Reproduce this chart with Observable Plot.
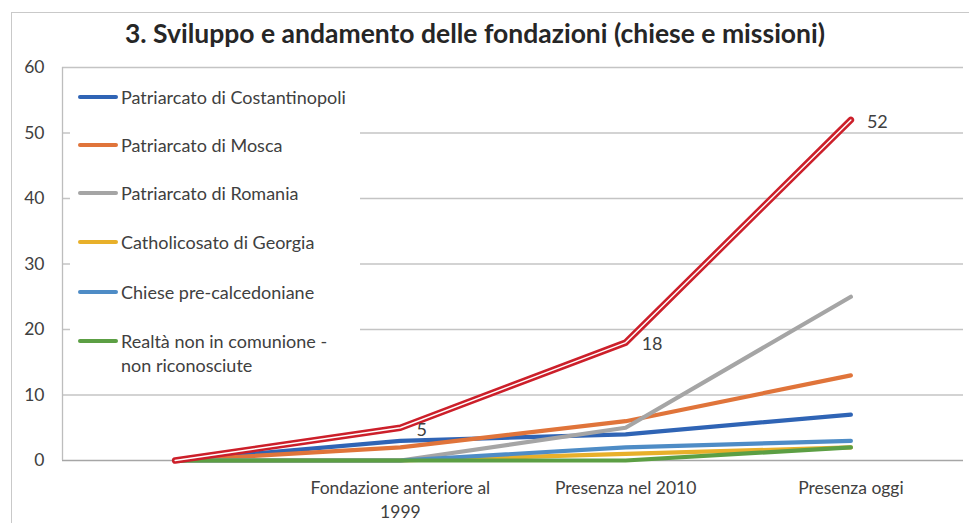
<!DOCTYPE html>
<html><head><meta charset="utf-8">
<script src="https://cdn.jsdelivr.net/npm/d3@7"></script>
<script src="https://cdn.jsdelivr.net/npm/@observablehq/plot@0.6"></script>
<style>
body{margin:0;background:#fff;overflow:hidden;font-family:Lato,sans-serif}
#wrap{position:relative;width:969px;height:523px;overflow:hidden}
#border{position:absolute;left:11px;top:12px;width:1000px;height:600px;border:1.5px solid #c9c9c9;box-sizing:border-box}
#title{position:absolute;left:0;width:950px;top:17px;text-align:center;font-weight:bold;font-size:26.5px;color:#262626;white-space:nowrap}
#chart{position:absolute;left:0;top:0}
#legend{position:absolute;left:70px;top:74px;width:290px;height:314px;background:#fff}
.item{position:absolute;left:8px;font-size:18px;color:#404040;line-height:24px;white-space:nowrap}
.sw{position:absolute;left:0;top:10px;width:40px;height:4px;border-radius:2px}
.lab{position:absolute;left:43px;top:0}
</style></head>
<body>
<div id="wrap">
  <div id="border"></div>
  <div id="chart"></div>
  <div id="legend"></div>
  <div id="title">3. Sviluppo e andamento delle fondazioni (chiese e missioni)</div>
</div>
<script>
const categories = ["", "Fondazione anteriore al\n1999", "Presenza nel 2010", "Presenza oggi"];
const seriesNames = ["Patriarcato di Costantinopoli", "Patriarcato di Mosca", "Patriarcato di Romania", "Catholicosato di Georgia", "Chiese pre-calcedoniane", "Realtà non in comunione -\nnon riconosciute"];
const seriesColors = ["#2f64b5", "#e0743a", "#a5a5a5", "#e8b02a", "#4e8cc6", "#5c9f44"];
const costantinopoli = [0, 3, 4, 7];
const mosca = [0, 2, 6, 13];
const romania = [0, 0, 5, 25];
const georgia = [0, 0, 1, 2];
const precalcedoniane = [0, 0, 2, 3];
const nonComunione = [0, 0, 0, 2];
const totale = [0, 5, 18, 52];
const yTicks = [0, 10, 20, 30, 40, 50, 60];

const seriesValues = [costantinopoli, mosca, romania, georgia, precalcedoniane, nonComunione];
const rows = [];
seriesValues.forEach((vals, s) => vals.forEach((v, i) => rows.push({series: seriesNames[s], i, value: v})));
const totalRows = totale.map((v, i) => ({i, value: v}));

const chart = Plot.plot({
  width: 969, height: 523,
  marginTop: 67, marginBottom: 63, marginLeft: 62, marginRight: 6,
  style: {fontFamily: "Lato, sans-serif", fontSize: "17px", color: "#404040", background: "transparent"},
  x: {type: "linear", domain: [-0.5, 3.5]},
  y: {domain: [0, 60]},
  color: {domain: seriesNames, range: seriesColors},
  marks: [
    Plot.gridY({ticks: yTicks.slice(1), stroke: "#c4c4c4", strokeOpacity: 1, strokeWidth: 1.3}),
    Plot.ruleY([0], {stroke: "#a6a6a6", strokeWidth: 1.5}),
    Plot.ruleX([-0.5], {stroke: "#bdbdbd", strokeWidth: 1.3}),
    Plot.axisY({ticks: yTicks, tickSize: 0, tickPadding: 18, fontSize: 17.5, fill: "#404040", label: null}),
    Plot.axisX({ticks: [1, 2, 3], tickSize: 0, tickPadding: 16, tickFormat: i => categories[i], lineHeight: 1.4, fontSize: 17.5, fill: "#404040", label: null}),
    Plot.line(rows, {x: "i", y: "value", z: "series", stroke: "series", strokeWidth: 4.2, strokeLinecap: "round", strokeLinejoin: "round"}),
    Plot.line(totalRows, {x: "i", y: "value", stroke: "#cc1f2a", strokeWidth: 6.5, strokeLinecap: "round", strokeLinejoin: "round"}),
    Plot.line(totalRows, {x: "i", y: "value", stroke: "#fff", strokeWidth: 1.4, strokeLinecap: "round", strokeLinejoin: "round"}),
    Plot.text(totalRows.filter(d => d.i > 0), {x: "i", y: "value", text: d => String(d.value), dx: 16, dy: 2, textAnchor: "start", fontSize: 18, fill: "#404040"})
  ]
});
document.getElementById("chart").appendChild(chart);

const legendCenters = [97, 145, 193, 242, 292, 341];
const legend = document.getElementById("legend");
seriesNames.forEach((name, k) => {
  const it = document.createElement("div");
  it.className = "item";
  it.style.top = (legendCenters[k] - 74 - 12) + "px";
  const sw = document.createElement("div");
  sw.className = "sw";
  sw.style.background = seriesColors[k];
  const lab = document.createElement("div");
  lab.className = "lab";
  lab.innerText = name;
  it.appendChild(sw); it.appendChild(lab);
  legend.appendChild(it);
});
</script>
</body></html>
